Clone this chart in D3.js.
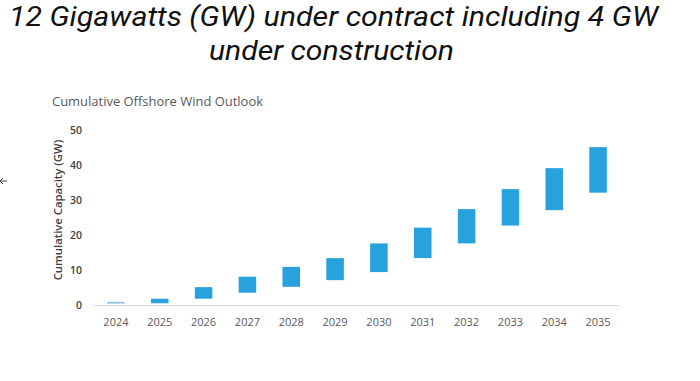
<!DOCTYPE html>
<html>
<head>
<meta charset="utf-8">
<script src="https://cdn.jsdelivr.net/npm/d3@7"></script>
<style>
  html, body { margin: 0; padding: 0; background: #ffffff; }
  svg { display: block; }
</style>
</head>
<body>
<div id="chart"></div>
<script>
// ---- data ----
const years = ["2024","2025","2026","2027","2028","2029","2030","2031","2032","2033","2034","2035"];
const lowValues  = [0.4, 0.5, 1.8, 3.5, 5.2, 7.1, 9.4, 13.4, 17.6, 22.7, 27.1, 32.1];
const highValues = [0.9, 1.8, 5.1, 8.1, 10.9, 13.4, 17.6, 22.1, 27.4, 33.1, 39.1, 45.1];
const yTicks = [0, 10, 20, 30, 40, 50];
const titleLines = ["12 Gigawatts (GW) under contract including 4 GW", "under construction"];
const subtitle = "Cumulative Offshore Wind Outlook";
const yTitle = "Cumulative Capacity (GW)";

const W = 700, H = 381;
const svg = d3.select("#chart").append("svg").attr("width", W).attr("height", H);

svg.append("rect").attr("width", W).attr("height", H).attr("fill", "#ffffff");

// title
const tfont = "Roboto, 'Liberation Sans', Arial, sans-serif";
svg.append("text").attr("x", 9).attr("y", 26)
  .attr("font-family", tfont).attr("font-style", "italic").attr("font-size", 28)
  .attr("fill", "#111").attr("textLength", 649).attr("lengthAdjust", "spacingAndGlyphs")
  .text(titleLines[0]);
svg.append("text").attr("x", 209).attr("y", 60)
  .attr("font-family", tfont).attr("font-style", "italic").attr("font-size", 28)
  .attr("fill", "#111").attr("textLength", 245).attr("lengthAdjust", "spacingAndGlyphs")
  .text(titleLines[1]);

// subtitle
svg.append("text").attr("x", 52).attr("y", 106)
  .attr("font-family", "'Open Sans', sans-serif").attr("font-size", 12.5)
  .attr("fill", "#595959").attr("textLength", 211).attr("lengthAdjust", "spacingAndGlyphs")
  .text(subtitle);

// scales
const x = d3.scaleBand().domain(years).range([94, 620]).paddingInner(0.6).paddingOuter(0.3);
const y = d3.scaleLinear().domain([0, 50]).range([305, 130]);

// baseline
svg.append("line").attr("x1", 94).attr("x2", 620).attr("y1", y(0) + 0.5).attr("y2", y(0) + 0.5)
  .attr("stroke", "#d9d9d9").attr("stroke-width", 1);

// y axis (no line)
const yAxis = svg.append("g").attr("transform", "translate(82,0)")
  .call(d3.axisLeft(y).tickValues(yTicks).tickSize(0).tickPadding(0));
yAxis.select(".domain").remove();
yAxis.selectAll("text").attr("font-family", "'Open Sans', sans-serif").attr("font-size", 10.5)
  .attr("font-weight", 600).attr("fill", "#404040");

// x axis
const xAxis = svg.append("g").attr("transform", `translate(0,${y(0)})`)
  .call(d3.axisBottom(x).tickSize(0).tickPadding(13));
xAxis.select(".domain").remove();
xAxis.selectAll("text").attr("font-family", "'Open Sans', sans-serif").attr("font-size", 11)
  .attr("fill", "#595959");

// y title
svg.append("text").attr("transform", `translate(62,${210}) rotate(-90)`)
  .attr("text-anchor", "middle")
  .attr("font-family", "'Open Sans', sans-serif").attr("font-size", 11.3)
  .attr("font-weight", 600).attr("fill", "#404040")
  .text(yTitle);

// floating bars
svg.append("g").selectAll("rect").data(years).join("rect")
  .attr("x", d => x(d))
  .attr("width", x.bandwidth())
  .attr("y", (d, i) => y(highValues[i]))
  .attr("height", (d, i) => y(lowValues[i]) - y(highValues[i]))
  .attr("fill", (d, i) => i === 0 ? "#8ec3e0" : "#27a2dc");

// small navigation arrow artifact at left edge
const ar = svg.append("g").attr("stroke", "#444").attr("stroke-width", 1).attr("fill", "none");
ar.append("path").attr("d", "M0,181 H7");
ar.append("path").attr("d", "M3,178 L0,181 L3,184");
</script>
</body>
</html>
